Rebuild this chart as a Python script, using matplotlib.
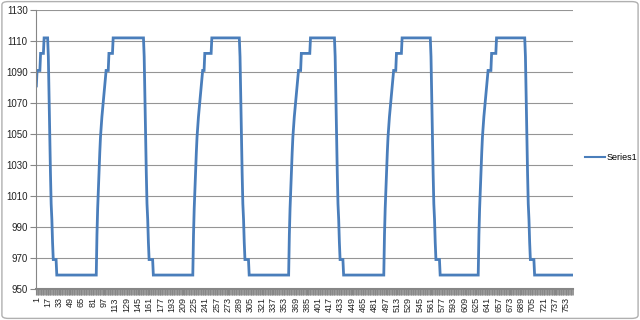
import numpy as np
import matplotlib
matplotlib.use("Agg")
import matplotlib.pyplot as plt
from matplotlib.patches import FancyBboxPatch

# values, step shape of each cycle
start_vals = [1081]
rise_vals = [985, 1002, 1014, 1026, 1038, 1048, 1055, 1061, 1066, 1071, 1076, 1081, 1086, 1091]
fall_vals = [1100, 1075, 1050, 1025, 1005, 995, 980]

# run lengths per cycle (cycle 1 starts part way up)
len_1091 = [5, 3, 2, 3, 3, 4]
len_1102 = [5, 6, 10, 13, 8, 7]
len_1112 = [6, 44, 40, 35, 41, 41]
len_969 = [5, 6, 6, 5, 6, 6]
len_959 = [57, 57, 57, 58, 55, 55]

series = list(start_vals)
for c in range(6):
    if c > 0:
        series += rise_vals
    series += [1091] * len_1091[c]
    series += [1102] * len_1102[c]
    series += [1112] * len_1112[c]
    series += fall_vals
    series += [969] * len_969[c]
    series += [959] * len_959[c]

y = np.array(series)
x = np.arange(1, len(y) + 1)

plt.rcParams['font.family'] = ['Liberation Sans', 'DejaVu Sans']

fig = plt.figure(figsize=(6.4, 3.2), dpi=100)
ax = fig.add_axes([36/640, 1 - 289/320, (573-36)/640, (289-10)/320])

ax.plot(x, y, color='#4A7EBB', lw=2, label='Series1', solid_joinstyle='miter')

ax.set_ylim(950, 1130)
ax.set_yticks(np.arange(950, 1131, 20))
ax.set_xlim(0.5, len(y) + 0.5)
ax.set_xticks(np.arange(1, len(y) + 1, 16))
ax.set_xticks(np.arange(1, len(y) + 1), minor=True)
ax.tick_params(axis='x', which='major', labelrotation=90, labelsize=6.5,
               length=4, color='#868686', labelcolor='#222222', pad=2)
ax.tick_params(axis='x', which='minor', length=4, color='#868686', width=0.6)
ax.tick_params(axis='y', labelsize=7, length=4, color='#868686',
               labelcolor='#222222', pad=2)
ax.grid(axis='y', color='#959595', lw=0.8)
ax.set_axisbelow(True)
for s in ['top', 'right']:
    ax.spines[s].set_visible(False)
ax.spines['left'].set_color('#868686')
ax.spines['bottom'].set_color('#868686')
ax.spines['bottom'].set_linewidth(1.5)

leg = fig.legend(loc='center left', bbox_to_anchor=(585/640, 1 - 158/320),
                 frameon=False, fontsize=6.5, handlelength=2.2, handletextpad=0.2,
                 borderaxespad=0, borderpad=0)
for h in leg.get_lines():
    h.set_linewidth(1.5)

fig.patches.append(FancyBboxPatch((0.003, 0.005), 0.994, 0.99,
                                  boxstyle='round,pad=0,rounding_size=0.01',
                                  transform=fig.transFigure, fill=False,
                                  edgecolor='#B0B0B0', lw=1))

fig.savefig('out.png', dpi=100)
